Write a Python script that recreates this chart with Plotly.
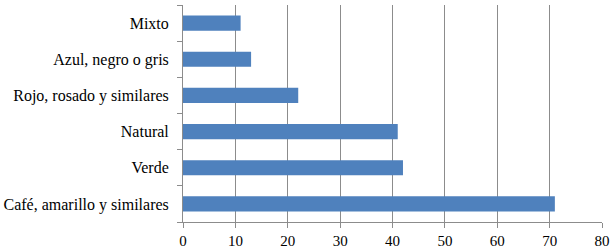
import plotly.graph_objects as go

categories = ["Café, amarillo y similares", "Verde", "Natural",
              "Rojo, rosado y similares", "Azul, negro o gris", "Mixto"]
values = [71, 42, 41, 22, 13, 11]
x_ticks = [0, 10, 20, 30, 40, 50, 60, 70, 80]

fig = go.Figure(go.Bar(
    x=values, y=categories, orientation="h",
    marker=dict(color="#4f81bd", line=dict(width=0)),
    width=0.42,
))

fig.update_layout(
    width=611, height=251,
    margin=dict(l=183, r=9, t=5, b=29),
    paper_bgcolor="white", plot_bgcolor="white",
    font=dict(family="Liberation Serif", size=16, color="black"),
    showlegend=False,
    bargap=0.58,
)
fig.update_xaxes(
    range=[0, 80], tickvals=x_ticks, showgrid=True, gridcolor="#8c8c8c", gridwidth=1,
    zeroline=False, showline=True, linecolor="#8c8c8c", linewidth=1,
    ticks="outside", ticklen=5, tickcolor="#8c8c8c", automargin=False,
    tickfont=dict(size=15),
)
fig.update_yaxes(
    showline=True, linecolor="#8c8c8c", linewidth=1, showgrid=False,
    ticks="outside", ticklen=5, tickcolor="#8c8c8c", tickson="boundaries",
    range=[-0.5, 5.5], ticklabelstandoff=10, automargin=False,
)

fig.write_html("out.html", config={"displayModeBar": False},
               post_script="document.body.style.margin='0';document.body.style.padding='0';")
